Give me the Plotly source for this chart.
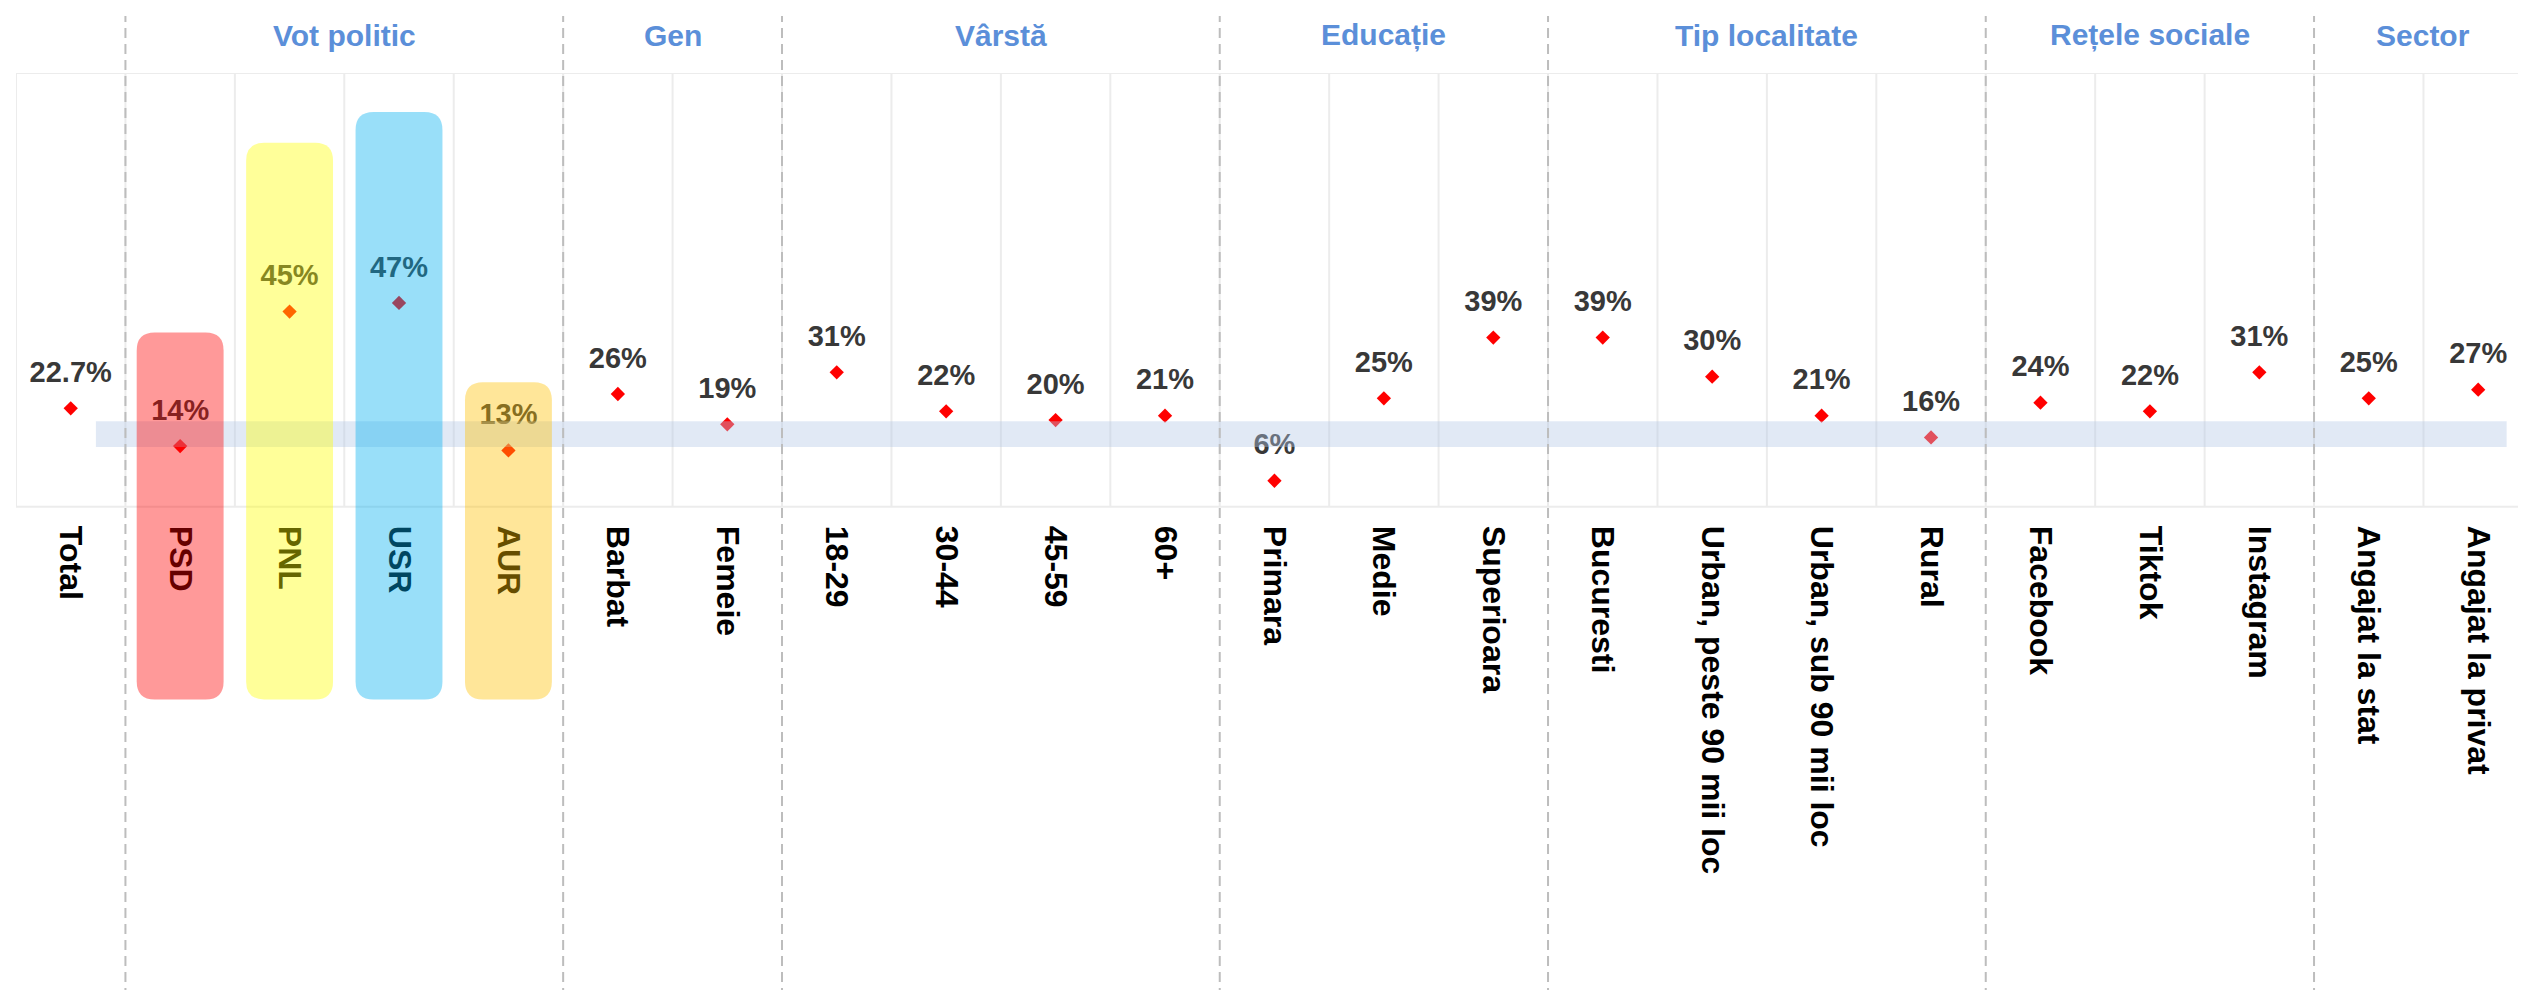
import plotly.graph_objects as go

# ---------------- data ----------------
categories = ["Total", "PSD", "PNL", "USR", "AUR", "Barbat", "Femeie",
              "18-29", "30-44", "45-59", "60+", "Primara", "Medie", "Superioara",
              "Bucuresti", "Urban, peste 90 mii loc", "Urban, sub 90 mii loc", "Rural",
              "Facebook", "Tiktok", "Instagram", "Angajat la stat", "Angajat la privat"]
values = [22.7, 14, 45, 47, 13, 26, 19, 31, 22, 20, 21, 6, 25, 39, 39, 30, 21, 16,
          24, 22, 31, 25, 27]
value_labels = ["22.7%", "14%", "45%", "47%", "13%", "26%", "19%", "31%", "22%", "20%",
                "21%", "6%", "25%", "39%", "39%", "30%", "21%", "16%", "24%", "22%",
                "31%", "25%", "27%"]

group_names = ["Vot politic", "Gen", "Vârstă", "Educa\u021bie", "Tip localitate",
               "Re\u021bele sociale", "Sector"]
group_first = [1, 5, 7, 11, 14, 18, 21]
group_last = [4, 6, 10, 13, 17, 20, 22]

party_names = ["PSD", "PNL", "USR", "AUR"]
party_bar_top = [40.2, 83.9, 91.0, 28.7]
party_bar_bottom = -44.4
party_colors = ["rgba(255,0,0,0.4)", "rgba(255,255,0,0.4)",
                "rgba(0,176,240,0.4)", "rgba(255,192,0,0.4)"]

band_low = 13.8
band_high = 19.7

# ---------------- layout constants ----------------
W, H = 2526, 990
M_L, M_R, M_T, M_B = 8, 0, 65, 296
Y_MIN, Y_MAX = -45, 100
X_MIN, X_MAX = -0.5, 22.51
FONT = "Liberation Sans, Arial, sans-serif"

plot_w = W - M_L - M_R
plot_h = H - M_T - M_B
px_x = plot_w / (X_MAX - X_MIN)   # pixels per category unit
px_y = plot_h / (Y_MAX - Y_MIN)   # pixels per percent

xs = list(range(len(categories)))

fig = go.Figure()

# red diamond markers
fig.add_trace(go.Scatter(
    x=xs, y=values, mode="markers",
    marker=dict(symbol="diamond", size=11, color="#ff0000", line=dict(width=0)),
    hoverinfo="skip", showlegend=False))

# value labels (invisible larger marker pushes text up)
fig.add_trace(go.Scatter(
    x=xs, y=values, mode="markers+text", text=value_labels,
    textposition="top center",
    textfont=dict(family=FONT, size=29, color="#383838", weight="bold"),
    marker=dict(size=29, color="rgba(0,0,0,0)"),
    hoverinfo="skip", showlegend=False))

shapes = []
# light grid / frame (below)
gl = "#ececec"
for b in [X_MIN] + [i + 0.5 for i in range(len(categories) - 1)]:
    shapes.append(dict(type="line", xref="x", yref="y", x0=b, x1=b, y0=0, y1=100,
                       line=dict(color=gl, width=2), layer="below"))
for yv in (0, 100):
    shapes.append(dict(type="line", xref="paper", yref="y", x0=0, x1=1, y0=yv, y1=yv,
                       line=dict(color=gl, width=2), layer="below"))

# horizontal band (above traces, below bars)
shapes.append(dict(type="rect", xref="x", yref="y", x0=0.23, x1=22.26,
                   y0=band_low, y1=band_high, fillcolor="rgba(180,199,231,0.4)",
                   line=dict(width=0), layer="above"))

# rounded party bars
r_px = 18
rx = r_px / px_x
ry = r_px / px_y
hw = 0.397
for name, top, col in zip(party_names, party_bar_top, party_colors):
    c = categories.index(name)
    l, rr, t, b = c - hw, c + hw, top, party_bar_bottom
    path = (f"M {l},{b+ry} L {l},{t-ry} Q {l},{t} {l+rx},{t} "
            f"L {rr-rx},{t} Q {rr},{t} {rr},{t-ry} "
            f"L {rr},{b+ry} Q {rr},{b} {rr-rx},{b} "
            f"L {l+rx},{b} Q {l},{b} {l},{b+ry} Z")
    shapes.append(dict(type="path", xref="x", yref="y", path=path,
                       fillcolor=col, line=dict(width=0), layer="above"))

# dashed group separators
top_paper = (plot_h + M_T - 8) / plot_h
bot_paper = -(M_B) / plot_h
for f in group_first:
    xb = f - 0.5
    shapes.append(dict(type="line", xref="x", yref="paper", x0=xb, x1=xb,
                       y0=bot_paper, y1=top_paper,
                       line=dict(color="#bdbdbd", width=2, dash="10px,6px"),
                       layer="above"))

annotations = []
for name, f, l in zip(group_names, group_first, group_last):
    annotations.append(dict(x=(f + l) / 2, xref="x", y=1, yref="paper",
                            yanchor="middle", yshift=38, showarrow=False,
                            text=name,
                            font=dict(family=FONT, size=30, color="#5b8fd9",
                                      weight="bold")))

fig.update_layout(
    width=W, height=H,
    margin=dict(l=M_L, r=M_R, t=M_T, b=M_B, autoexpand=False),
    paper_bgcolor="white", plot_bgcolor="white",
    shapes=shapes, annotations=annotations,
    showlegend=False,
    xaxis=dict(range=[X_MIN, X_MAX], tickvals=xs, ticktext=categories,
               tickangle=90, showgrid=False, zeroline=False, showline=False,
               ticks="", anchor="free", position=(0 - Y_MIN) / (Y_MAX - Y_MIN),
               ticklabelstandoff=18, layer="above traces",
               tickfont=dict(family=FONT, size=32, color="#000000", weight="bold"),
               fixedrange=True),
    yaxis=dict(range=[Y_MIN, Y_MAX], visible=False, fixedrange=True),
)

fig.write_html("out.html")
